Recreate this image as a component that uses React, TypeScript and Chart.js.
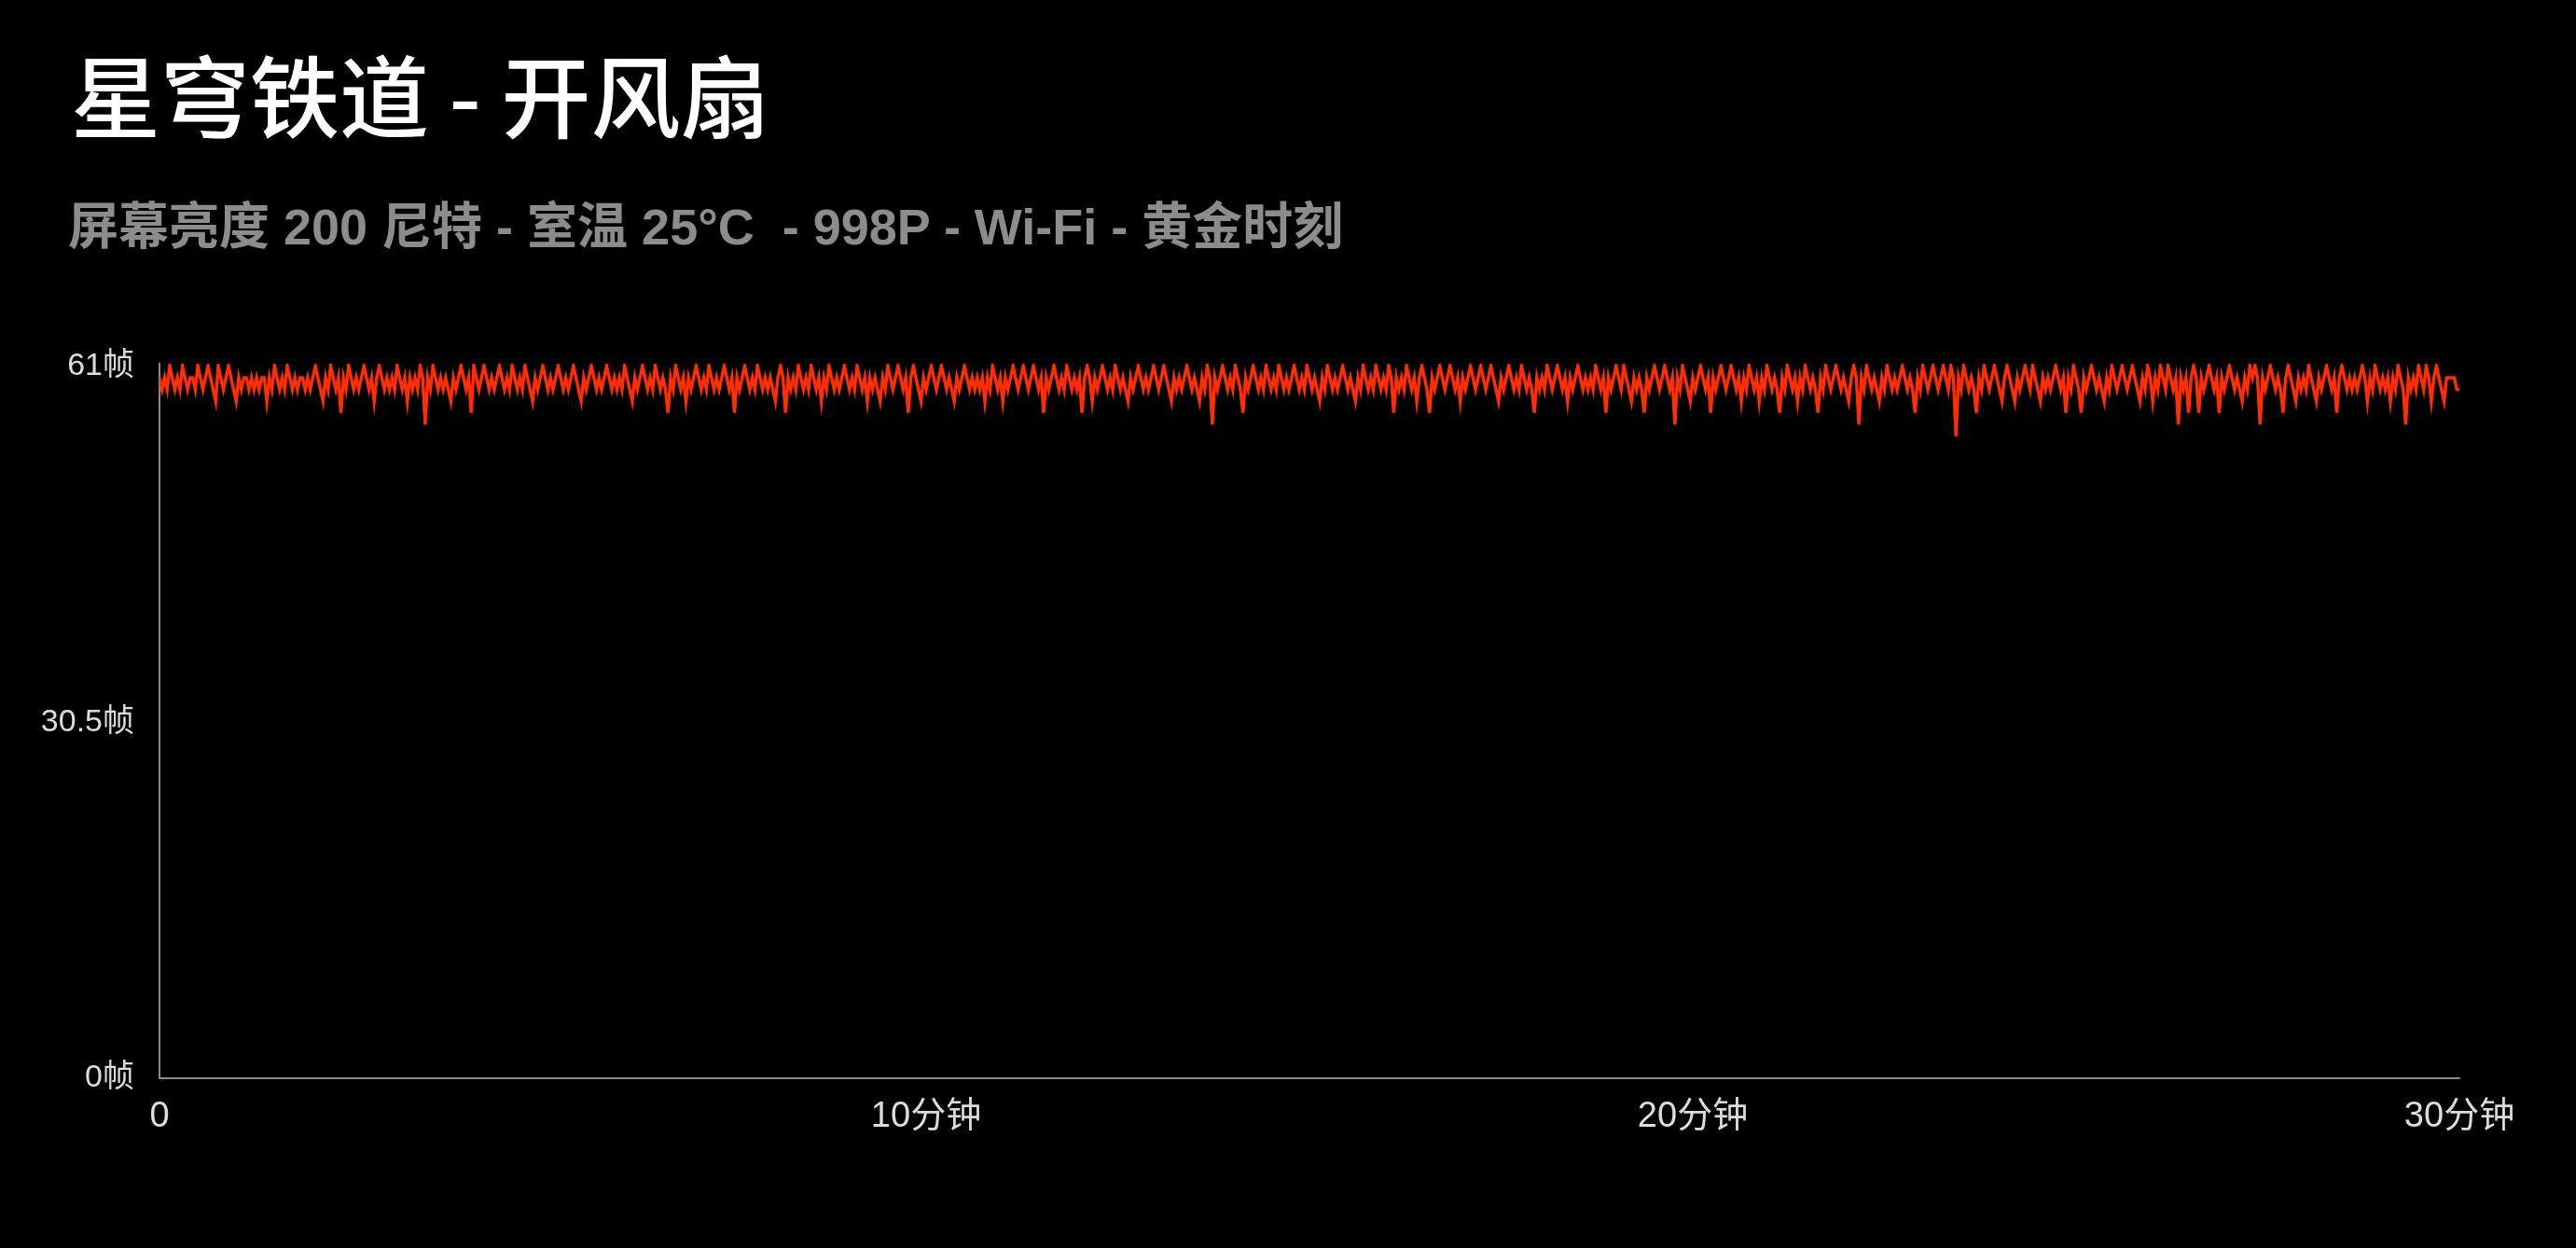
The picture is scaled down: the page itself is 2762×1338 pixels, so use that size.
import React, { useEffect, useRef } from 'react';
import { Chart, registerables } from 'chart.js';

Chart.register(...registerables);

const TITLE = '星穹铁道 - 开风扇';
const SUBTITLE = '屏幕亮度 200 尼特 - 室温 25°C  - 998P - Wi-Fi - 黄金时刻';

// one sample every 2 seconds over 30 minutes
const STEP_SECONDS = 2;
const FPS = [
  60, 59, 60, 59, 61, 60, 59, 60, 59, 61, 60, 59, 60, 60, 59, 61, 60, 59, 60, 61,
  60, 59, 58, 61, 60, 59, 60, 61, 60, 59, 58, 60, 59, 60, 60, 59, 60, 59, 60, 59,
  60, 60, 58, 60, 59, 61, 60, 59, 60, 59, 61, 60, 59, 60, 59, 60, 60, 59, 60, 59,
  60, 61, 60, 59, 58, 60, 59, 61, 60, 59, 60, 57, 60, 59, 61, 60, 59, 60, 59, 60,
  61, 60, 59, 60, 58, 60, 61, 60, 59, 60, 59, 60, 59, 61, 60, 59, 60, 58, 60, 59,
  60, 59, 61, 60, 56, 60, 59, 61, 60, 59, 60, 59, 60, 59, 58, 60, 59, 60, 61, 60,
  59, 60, 57, 61, 60, 59, 60, 61, 60, 59, 60, 59, 60, 61, 60, 59, 60, 59, 61, 60,
  59, 60, 59, 61, 60, 59, 58, 60, 59, 60, 61, 60, 59, 60, 59, 60, 61, 60, 59, 60,
  59, 60, 61, 60, 59, 58, 60, 59, 60, 61, 60, 59, 60, 59, 60, 61, 60, 59, 60, 59,
  60, 59, 61, 60, 59, 58, 60, 59, 60, 61, 60, 59, 60, 59, 61, 60, 59, 60, 59, 57,
  60, 59, 61, 60, 59, 60, 58, 60, 59, 60, 61, 60, 59, 60, 59, 61, 60, 59, 60, 59,
  60, 61, 60, 59, 60, 57, 60, 59, 60, 61, 60, 59, 60, 59, 61, 60, 59, 60, 59, 60,
  59, 58, 60, 61, 60, 57, 60, 59, 60, 59, 61, 60, 59, 60, 59, 61, 60, 59, 60, 58,
  60, 59, 61, 60, 59, 60, 59, 60, 61, 60, 59, 60, 59, 61, 60, 59, 60, 58, 60, 59,
  60, 59, 58, 60, 59, 61, 60, 59, 60, 61, 60, 59, 60, 57, 60, 61, 60, 59, 58, 60,
  59, 60, 61, 60, 59, 60, 61, 60, 59, 60, 59, 58, 60, 59, 60, 61, 60, 59, 60, 59,
  60, 59, 60, 58, 60, 59, 61, 60, 59, 60, 58, 60, 59, 60, 61, 60, 59, 60, 61, 60,
  59, 60, 61, 60, 59, 60, 57, 60, 59, 60, 61, 60, 59, 60, 59, 61, 60, 59, 60, 59,
  60, 57, 60, 61, 60, 58, 60, 59, 60, 61, 60, 59, 60, 59, 61, 60, 59, 60, 59, 58,
  60, 59, 60, 61, 60, 59, 60, 59, 60, 61, 60, 59, 60, 61, 60, 59, 58, 60, 59, 60,
  59, 60, 61, 60, 59, 60, 59, 58, 60, 59, 61, 60, 56, 60, 59, 60, 61, 60, 59, 60,
  59, 61, 60, 59, 57, 60, 59, 60, 61, 60, 59, 60, 59, 61, 60, 59, 60, 59, 61, 60,
  59, 60, 59, 60, 61, 60, 59, 60, 59, 61, 60, 59, 60, 59, 58, 60, 59, 61, 60, 59,
  60, 59, 60, 61, 60, 59, 60, 59, 58, 60, 59, 61, 60, 59, 60, 59, 61, 60, 59, 60,
  59, 61, 60, 57, 60, 59, 60, 59, 61, 60, 59, 60, 58, 60, 61, 60, 59, 57, 60, 59,
  60, 61, 60, 59, 60, 61, 60, 59, 60, 58, 60, 59, 60, 61, 60, 59, 60, 61, 60, 59,
  60, 61, 60, 59, 58, 60, 59, 60, 61, 60, 59, 60, 59, 61, 60, 59, 60, 59, 57, 60,
  59, 60, 59, 61, 60, 59, 60, 61, 60, 59, 60, 58, 60, 59, 60, 61, 60, 59, 60, 59,
  60, 59, 61, 60, 59, 60, 57, 60, 59, 60, 61, 60, 59, 61, 60, 59, 58, 60, 59, 60,
  59, 57, 60, 59, 60, 61, 60, 59, 60, 61, 60, 59, 60, 56, 60, 59, 61, 60, 59, 58,
  60, 59, 60, 61, 60, 59, 60, 57, 60, 59, 60, 61, 60, 59, 60, 61, 60, 59, 60, 58,
  60, 59, 61, 60, 59, 60, 58, 60, 59, 61, 60, 59, 60, 59, 57, 60, 59, 61, 60, 59,
  60, 58, 60, 59, 61, 60, 59, 60, 59, 57, 60, 59, 61, 60, 59, 60, 61, 60, 59, 60,
  59, 58, 60, 61, 60, 56, 60, 59, 61, 60, 59, 60, 59, 58, 60, 59, 61, 60, 59, 60,
  59, 60, 61, 60, 59, 60, 59, 57, 60, 59, 61, 60, 59, 60, 61, 60, 59, 60, 61, 60,
  59, 61, 60, 55, 60, 59, 61, 60, 59, 60, 59, 57, 60, 59, 61, 60, 59, 60, 61, 60,
  59, 58, 60, 61, 60, 59, 58, 60, 59, 60, 61, 60, 59, 61, 60, 59, 58, 60, 59, 60,
  59, 60, 61, 60, 59, 60, 57, 60, 59, 61, 60, 59, 57, 60, 59, 60, 61, 60, 59, 60,
  59, 58, 60, 59, 61, 60, 59, 60, 61, 60, 59, 60, 61, 60, 59, 58, 60, 59, 61, 60,
  58, 60, 59, 61, 60, 59, 61, 60, 59, 60, 56, 60, 59, 60, 57, 60, 61, 60, 57, 60,
  59, 60, 61, 60, 59, 60, 57, 60, 59, 60, 61, 60, 59, 60, 59, 58, 60, 59, 61, 60,
  61, 60, 56, 60, 59, 60, 61, 60, 59, 60, 59, 57, 60, 61, 60, 59, 58, 60, 59, 60,
  59, 61, 60, 59, 58, 60, 59, 60, 61, 60, 59, 60, 57, 60, 61, 60, 59, 60, 59, 60,
  59, 60, 61, 60, 58, 60, 59, 61, 60, 59, 60, 59, 60, 58, 60, 59, 61, 60, 59, 56,
  60, 59, 60, 59, 61, 60, 59, 61, 60, 58, 60, 61, 60, 59, 58, 60, 60, 60, 60, 59,
  59,
];

const X_TICK_VALUES = [0, 600, 1200, 1800];
const X_TICK_LABELS = ['0', '10分钟', '20分钟', '30分钟'];
const Y_TICK_VALUES = [0, 30.5, 61];
const Y_TICK_LABELS = ['0帧', '30.5帧', '61帧'];

const TICK_FONT = "'Liberation Sans', 'Noto Sans CJK SC', sans-serif";

export default function App() {
  const canvasRef = useRef<HTMLCanvasElement | null>(null);

  useEffect(() => {
    const canvas = canvasRef.current;
    if (!canvas) return;
    const points = FPS.map((y, i) => ({ x: i * STEP_SECONDS, y }));
    const chart = new Chart(canvas, {
      type: 'line',
      data: {
        datasets: [
          {
            data: points,
            borderColor: '#ff2d00',
            backgroundColor: '#ff2d00',
            borderWidth: 3.5,
            pointRadius: 0,
            tension: 0,
            fill: false,
          },
        ],
      },
      options: {
        animation: false,
        responsive: false,
        maintainAspectRatio: false,
        layout: { padding: { top: 390, right: 125, left: 0, bottom: 0 } },
        plugins: {
          legend: { display: false },
          tooltip: { enabled: false },
          title: { display: false },
        },
        scales: {
          x: {
            type: 'linear',
            min: 0,
            max: 1800,
            grid: { display: false, drawTicks: false },
            border: { display: true, color: '#8a8a8a', width: 2 },
            afterBuildTicks: (s: any) => {
              s.ticks = X_TICK_VALUES.map((v) => ({ value: v }));
            },
            afterFit: (s: any) => {
              s.height = 182;
            },
            ticks: {
              color: '#dcdcdc',
              font: { family: TICK_FONT, size: 38 },
              padding: 19,
              maxRotation: 0,
              autoSkip: false,
              callback: (_v: any, i: number) => X_TICK_LABELS[i],
            },
          },
          y: {
            type: 'linear',
            min: 0,
            max: 61.2,
            grid: { display: false, drawTicks: false },
            border: { display: true, color: '#8a8a8a', width: 2 },
            afterBuildTicks: (s: any) => {
              s.ticks = Y_TICK_VALUES.map((v) => ({ value: v }));
            },
            afterFit: (s: any) => {
              s.width = 171;
            },
            ticks: {
              color: '#dcdcdc',
              font: { family: TICK_FONT, size: 34 },
              padding: 27,
              autoSkip: false,
              callback: (_v: any, i: number) => Y_TICK_LABELS[i],
            },
          },
        },
      },
    });
    return () => chart.destroy();
  }, []);

  return (
    <div
      style={{
        position: 'fixed',
        left: 0,
        top: 0,
        width: 2762,
        height: 1338,
        background: '#000',
        overflow: 'hidden',
      }}
    >
      <canvas
        ref={canvasRef}
        width={2762}
        height={1338}
        style={{ position: 'absolute', left: 0, top: 0, width: 2762, height: 1338 }}
      />
      <div
        style={{
          position: 'absolute',
          left: 76,
          top: 51,
          fontSize: 96,
          lineHeight: '96px',
          fontWeight: 500,
          color: '#ffffff',
          fontFamily: "'Noto Sans CJK SC', sans-serif",
          whiteSpace: 'pre',
        }}
      >
        {TITLE}
      </div>
      <div
        style={{
          position: 'absolute',
          left: 73,
          top: 216,
          fontSize: 54,
          lineHeight: '54px',
          fontWeight: 700,
          color: '#8c8c8c',
          fontFamily: "'Liberation Sans', 'Noto Sans CJK SC', sans-serif",
          whiteSpace: 'pre',
        }}
      >
        {SUBTITLE}
      </div>
    </div>
  );
}
